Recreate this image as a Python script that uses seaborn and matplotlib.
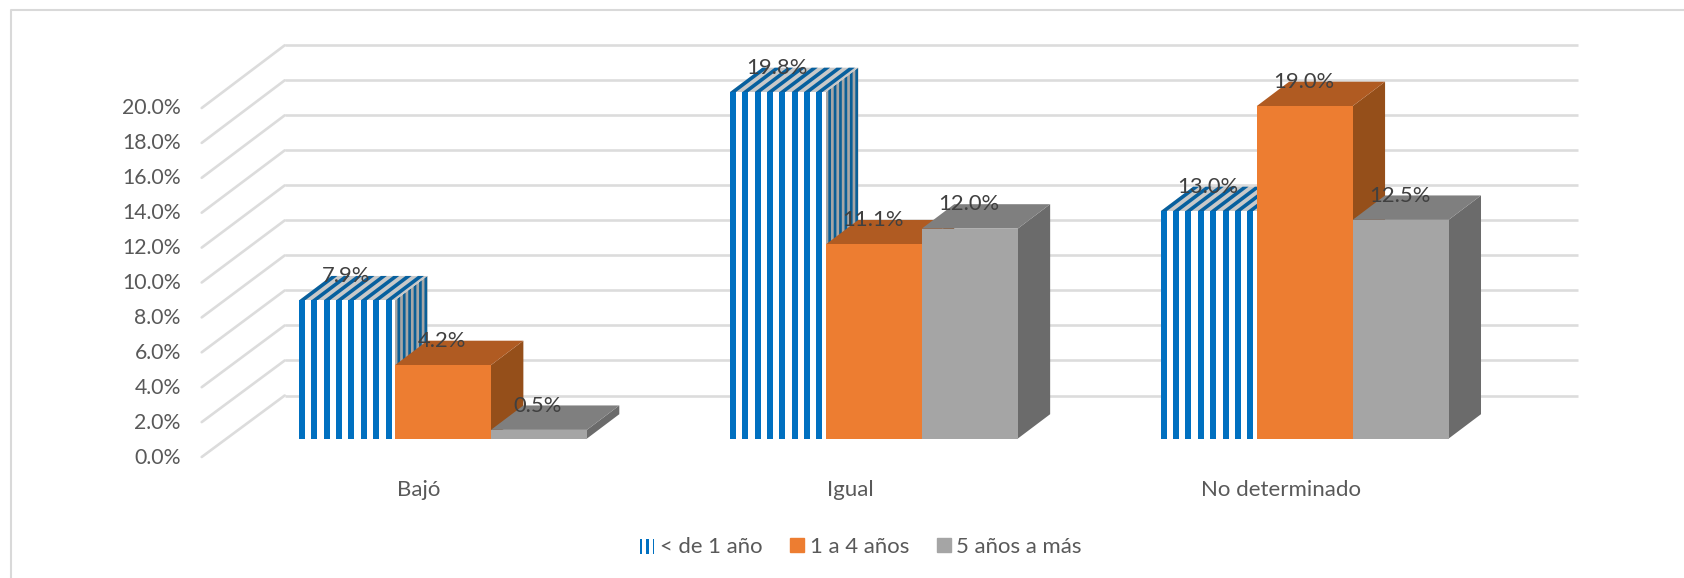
import matplotlib
matplotlib.use("Agg")
import matplotlib.pyplot as plt
from matplotlib.legend_handler import HandlerBase
from matplotlib.patches import ConnectionPatch, Patch, Polygon, Rectangle
from matplotlib.ticker import PercentFormatter
from matplotlib.transforms import ScaledTranslation
import pandas as pd
import seaborn as sns

# Survey shares per category and length of service
categories = ["Bajó", "Igual", "No determinado"]
series_names = ["< de 1 año", "1 a 4 años", "5 años a más"]
menos_1 = [7.9, 19.8, 13.0]
de_1_a_4 = [4.2, 11.1, 19.0]
de_5_mas = [0.5, 12.0, 12.5]
y_ticks = [0, 2, 4, 6, 8, 10, 12, 14, 16, 18, 20]

W, H = 1684, 578
TEXT = "#595959"
LABEL = "#404040"
GRID = "#DCDCDC"
BLUE = "#0070C0"
FACES = {
    series_names[1]: ("#ED7D31", "#B05B22", "#954F1A"),
    series_names[2]: ("#A5A5A5", "#7F7F7F", "#6B6B6B"),
}

sns.set_theme(style="white")
plt.rcParams["font.family"] = ["Lato", "DejaVu Sans"]
TICK_FONT = 15.3
LABEL_FONT = 15.8
CAT_FONT = 16
LEGEND_FONT = 15.9


def box(left, right, top, bottom):
    """Axes rectangle from pixel edges measured from the top-left corner."""
    return [left / W, 1 - bottom / H, (right - left) / W, (bottom - top) / H]


def nudge(text, dx_px, dy_px):
    """Shift a text artist by a number of pixels (up is positive)."""
    text.set_transform(text.get_transform()
                       + ScaledTranslation(dx_px / 100, dy_px / 100, fig.dpi_scale_trans))


fig = plt.figure(figsize=(W / 100, H / 100), dpi=100, facecolor="white")

# Chart frame, open towards the right and bottom
fig.add_artist(plt.Line2D([10.5 / W, 10.5 / W, 1], [0, 1 - 9.5 / H, 1 - 9.5 / H],
                          color="#D9D9D9", lw=1.5, transform=fig.transFigure))

# Back wall carrying the horizontal gridlines
wall = fig.add_axes(box(284.7, 1577.5, 45.3, 395.5))
wall.set(xlim=(0, 1), ylim=(0, 20), yticks=y_ticks, xticks=[])
wall.grid(axis="y", color=GRID, lw=1.9)
for line in wall.get_ygridlines():
    line.set_clip_on(False)
    line.set_solid_capstyle("butt")
wall.tick_params(left=False, labelleft=False)
sns.despine(ax=wall, left=True, bottom=True)
wall.patch.set_alpha(0)

# Front edge of the floor, which holds the value axis
front = fig.add_axes(box(201.7, 1494.5, 108.0, 457.0))
front.set(xlim=(0, 1), ylim=(0, 20), yticks=y_ticks, xticks=[])
front.yaxis.set_major_formatter(PercentFormatter(decimals=1))
front.tick_params(axis="y", length=0, pad=15, labelsize=TICK_FONT, labelcolor=TEXT)
sns.despine(ax=front, left=True, bottom=True)
front.patch.set_alpha(0)
for tick in front.yaxis.get_major_ticks():
    nudge(tick.label1, 0, 1.5)

# Slanted gridlines joining the front edge to the wall
for v in y_ticks:
    fig.add_artist(ConnectionPatch((0, v), (0, v), "data", "data",
                                   axesA=front, axesB=wall,
                                   color=GRID, lw=1.9))

# Bars, placed partway between the front edge and the wall
STEP = 430.85
CENTER0 = 443.0
BASE = 438.6
PER_UNIT = 17.5
ax = fig.add_axes(box(CENTER0 - STEP / 2, CENTER0 + 2.5 * STEP,
                      BASE - 20 * PER_UNIT, BASE))
table = pd.DataFrame({
    "categoria": categories * 3,
    "serie": [s for s in series_names for _ in categories],
    "valor": menos_1 + de_1_a_4 + de_5_mas,
})
palette = dict(zip(series_names, ["white", FACES[series_names[1]][0], FACES[series_names[2]][0]]))
sns.barplot(table, x="categoria", y="valor", hue="serie", hue_order=series_names,
            order=categories, palette=palette, width=0.668, gap=0, saturation=1,
            legend=False, ax=ax, linewidth=0, clip_on=False)
ax.set(xlim=(-0.5, 2.5), ylim=(0, 20), xlabel="", ylabel="", yticks=[])
ax.patch.set_alpha(0)
ax.tick_params(axis="x", length=0, pad=29.7, labelsize=CAT_FONT, labelcolor=TEXT)
sns.despine(ax=ax, left=True, bottom=True)
for tick in ax.xaxis.get_major_ticks():
    nudge(tick.label1, -24, 0)

DX = 32.4 / STEP
DY = 24.4 / PER_UNIT
PERIOD = 12.35 / STEP
STRIPE = 6.0 / STEP


def add(poly, color, z):
    ax.add_patch(Polygon(poly, closed=True, facecolor=color, edgecolor="none",
                         zorder=z, clip_on=False))


def draw_striped(x0, x1, h, z):
    """Vertical stripes on the front, sheared on the top, narrow on the side."""
    add([(x1, 0), (x1 + DX, DY), (x1 + DX, h + DY), (x1, h)], "#A6A6A6", z)
    n_side = 6
    for i in range(n_side):
        a = x1 + DX * (i + 0.45) / n_side
        b = x1 + DX * (i + 0.95) / n_side
        ya, yb = (a - x1) / DX * DY, (b - x1) / DX * DY
        add([(a, ya), (b, yb), (b, h + yb), (a, h + ya)], "#0B5F96", z + 0.01)
    add([(x0, h), (x1, h), (x1 + DX, h + DY), (x0 + DX, h + DY)], "#C9C9C9", z + 0.02)
    s = x0
    while s < x1 - 1e-9:
        e = min(s + STRIPE, x1)
        add([(s, h), (e, h), (e + DX, h + DY), (s + DX, h + DY)], "#07609E", z + 0.03)
        s += PERIOD
    s = x0
    while s < x1 - 1e-9:
        ax.add_patch(Rectangle((s, 0), min(STRIPE, x1 - s), h, facecolor=BLUE,
                               edgecolor="none", zorder=z + 0.06, clip_on=False))
        s += PERIOD


# Paint left to right so that each bar covers the depth of the previous one
bars = []
for s_idx, container in enumerate(ax.containers):
    for c_idx, bar in enumerate(container):
        bars.append((c_idx, s_idx, bar))
bars.sort(key=lambda t: (t[0], t[1]))

for k, (c_idx, s_idx, bar) in enumerate(bars):
    z = 5 + k
    x0, x1 = bar.get_x(), bar.get_x() + bar.get_width()
    h = bar.get_height()
    bar.set_zorder(z + 0.05)
    if s_idx == 0:
        draw_striped(x0, x1, h, z)
    else:
        _, top_c, side_c = FACES[series_names[s_idx]]
        add([(x1, 0), (x1 + DX, DY), (x1 + DX, h + DY), (x1, h)], side_c, z)
        add([(x0, h), (x1, h), (x1 + DX, h + DY), (x0 + DX, h + DY)], top_c, z + 0.01)

for c_idx, s_idx, bar in bars:
    ax.annotate(f"{bar.get_height():.1f}%",
                (bar.get_x() + bar.get_width() / 2, bar.get_height()),
                xytext=(-0.7, 17.5), textcoords="offset points",
                ha="center", va="center", fontsize=LABEL_FONT, color=LABEL,
                zorder=100, annotation_clip=False)


class StripedHandler(HandlerBase):
    """Legend swatch with the same vertical stripes as the first series."""

    def create_artists(self, legend, orig_handle, xd, yd, width, height, fontsize, trans):
        spans = [(0.0, 0.1), (0.38, 0.66), (0.9, 1.0)]
        return [Rectangle((xd + a * width, yd - 0.0), (b - a) * width, height,
                          facecolor=BLUE, edgecolor="none", transform=trans)
                for a, b in spans]


handles = [Patch(label=series_names[0]),
           Patch(color=FACES[series_names[1]][0], label=series_names[1]),
           Patch(color=FACES[series_names[2]][0], label=series_names[2])]
fig.legend(handles=handles, labels=series_names, ncols=3, frameon=False,
           loc="center", bbox_to_anchor=(861 / W, 1 - 547 / H),
           fontsize=LEGEND_FONT, labelcolor=TEXT, handlelength=0.63, handleheight=0.63,
           handletextpad=0.25, columnspacing=1.26,
           handler_map={handles[0]: StripedHandler()})

fig.savefig("out.png", dpi=100)
